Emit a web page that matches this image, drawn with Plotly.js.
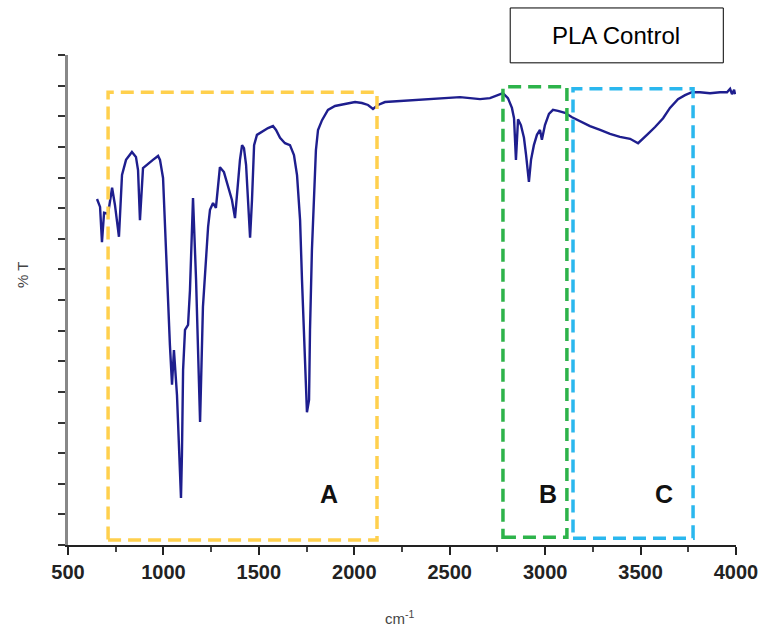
<!DOCTYPE html>
<html>
<head>
<meta charset="utf-8">
<script src="https://cdn.plot.ly/plotly-3.0.1.min.js"></script>
<style>html,body{margin:0;padding:0;background:#fff;}#chart{width:767px;height:629px;}</style>
</head>
<body>
<div id="chart"></div>
<script>
// Wavenumber (cm^-1)
const wavenumber = [652,668,678,689,710,731,746,767,783,804,835,856,867,877,893,919,945,972,982,998,
  1008,1024,1034,1045,1055,1071,1082,1092,1097,1103,1113,1129,1139,1155,1171,1192,1207,1223,1234,1244,
  1260,1275,1296,1317,1338,1359,1375,1385,1401,1412,1422,1433,1443,1454,1464,1475,1490,1516,1548,1574,
  1590,1611,1637,1663,1684,1700,1716,1726,1737,1747,1752,1763,1768,1778,1789,1799,1810,1831,1862,1899,
  1951,2004,2040,2072,2098,2124,2161,2239,2344,2449,2554,2659,2711,2779,2805,2826,2837,2847,2858,2873,
  2889,2900,2915,2926,2941,2957,2973,2983,2999,3020,3041,3067,3104,3141,3183,3235,3288,3340,3392,3445,
  3487,3508,3539,3576,3618,3654,3696,3733,3769,3811,3864,3916,3953,3969,3979,3990,3995];
// Transmittance (%T, arbitrary scale)
const transmittance = [70.6,69.0,61.8,67.8,67.6,72.9,69.4,62.9,75.5,78.6,80.2,79.2,76.5,66.3,76.9,77.8,78.6,79.4,78.6,74.9,
  64.3,51.4,40.8,32.7,39.8,30.6,17.3,9.6,18.4,35.7,43.9,44.9,52.0,70.8,54.1,25.1,48.6,59.2,64.9,68.4,
  69.8,68.8,77.1,76.1,73.5,70.4,66.7,71.4,78.6,81.6,81.0,77.6,70.4,62.7,70.4,81.6,83.7,84.3,85.1,85.5,
  84.7,83.1,82.0,81.6,79.6,75.5,66.3,54.1,43.9,33.7,27.1,29.6,43.9,60.2,72.4,80.6,84.7,86.7,88.8,89.6,
  90.0,90.4,90.2,89.8,89.0,89.8,90.4,90.6,90.8,91.2,91.4,91.0,91.2,92.2,91.2,89.2,87.1,78.6,86.9,85.7,
  83.1,79.6,74.1,78.6,81.6,83.7,84.7,82.7,85.7,88.0,88.8,88.6,88.2,87.3,86.5,85.5,84.7,83.9,83.3,82.9,
  82.0,82.7,83.9,85.3,87.1,89.2,91.0,91.8,92.4,92.4,92.2,92.4,92.4,93.1,92.0,92.9,92.0];

const regionLabels = ['A', 'B', 'C'];
const regionStart = [710, 2779, 3146];
const regionEnd = [2119, 3114, 3775];
const regionTop = [92.4, 93.5, 93.1];
const regionBottom = [1.0, 1.6, 1.4];
const regionColors = ['#FFD04D', '#2DB34A', '#2AB7EE'];
const labelX = [1868, 3015, 3623];
const labelY = [10.4, 10.4, 10.4];

const shapes = regionLabels.map((_, i) => ({
  type: 'rect', xref: 'x', yref: 'y',
  x0: regionStart[i], x1: regionEnd[i], y0: regionBottom[i], y1: regionTop[i],
  line: {color: regionColors[i], width: 3.5, dash: '13px,7px'},
  fillcolor: 'rgba(0,0,0,0)'
}));
shapes.push({type: 'rect', xref: 'paper', yref: 'paper', x0: 0.662, x1: 0.981, y0: 0.984, y1: 1.096,
  line: {color: '#000', width: 1}, fillcolor: '#fff'});

const font = 'Liberation Sans, Arial, sans-serif';
const annotations = regionLabels.map((t, i) => ({
  x: labelX[i], y: labelY[i], xref: 'x', yref: 'y', text: t, showarrow: false,
  xanchor: 'center', yanchor: 'middle',
  font: {family: font, size: 25, color: '#111', weight: 'bold'}
}));
annotations.push({x: 0.821, y: 1.040, xref: 'paper', yref: 'paper', text: 'PLA Control', showarrow: false,
  xanchor: 'center', yanchor: 'middle',
  font: {family: font, size: 24, color: '#000'}});
annotations.push({x: -0.069, y: 0.551, xref: 'paper', yref: 'paper', text: '% T', showarrow: false, textangle: -90,
  xanchor: 'center', yanchor: 'middle',
  font: {family: font, size: 15, color: '#444'}});
annotations.push({x: 0.497, y: -0.147, xref: 'paper', yref: 'paper', text: 'cm<sup>-1</sup>', showarrow: false,
  xanchor: 'center', yanchor: 'middle',
  font: {family: font, size: 15, color: '#444'}});

const trace = {
  x: wavenumber, y: transmittance, type: 'scatter', mode: 'lines',
  line: {color: '#1e1e8e', width: 2.4}, hoverinfo: 'skip'
};

const layout = {
  width: 767, height: 629,
  margin: {l: 68, r: 31, t: 55, b: 84},
  paper_bgcolor: '#fff', plot_bgcolor: '#fff',
  showlegend: false,
  xaxis: {
    range: [500, 4000], dtick: 500, tick0: 500, ticks: 'outside', ticklen: 8, tickwidth: 2, tickcolor: '#222',
    showline: true, linecolor: '#222', linewidth: 2, showgrid: false, zeroline: false,
    minor: {dtick: 250, ticks: 'outside', ticklen: 5, tickwidth: 2, tickcolor: '#444'},
    tickfont: {family: font, size: 20, color: '#222', weight: 'bold'}
  },
  yaxis: {
    range: [0, 100], dtick: 6.25, tick0: 0, ticks: 'outside', ticklen: 7, tickwidth: 2, tickcolor: '#333',
    showticklabels: false, showline: true, linecolor: '#888', linewidth: 3, showgrid: false, zeroline: false
  },
  shapes: shapes,
  annotations: annotations
};

Plotly.newPlot('chart', [trace], layout, {staticPlot: true, displayModeBar: false});
</script>
</body>
</html>
